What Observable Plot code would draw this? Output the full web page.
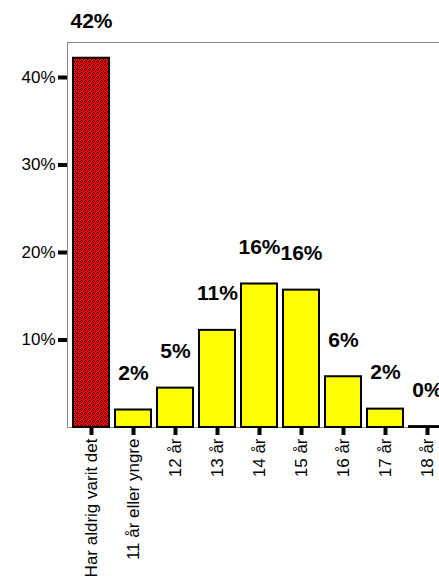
<!DOCTYPE html>
<html>
<head>
<meta charset="utf-8">
<script src="https://cdn.jsdelivr.net/npm/d3@7"></script>
<script src="https://cdn.jsdelivr.net/npm/@observablehq/plot@0.6"></script>
<style>
  html, body { margin: 0; padding: 0; background: white; overflow: hidden; }
</style>
</head>
<body>
<div id="chart"></div>
<script>
const categories = ["Har aldrig varit det", "11 år eller yngre", "12 år", "13 år", "14 år", "15 år", "16 år", "17 år", "18 år"];
const percents = [42.2, 2.0, 4.5, 11.1, 16.4, 15.7, 5.8, 2.1, 0.1];
const yTicks = [10, 20, 30, 40];
const highlightColor = "url(#dots)";
const barColor = "#ffff00";

const data = categories.map((c, i) => ({category: c, value: percents[i]}));

const svg = Plot.plot({
  width: 439,
  height: 583,
  marginLeft: 67,
  marginTop: 42,
  marginBottom: 156,
  marginRight: -20,
  style: {fontFamily: "'Liberation Sans', Arial, sans-serif", background: "white", color: "black", overflow: "visible"},
  x: {domain: categories, range: [66.7, 450.2], paddingInner: 0.15, paddingOuter: 0.087, label: null},
  y: {domain: [0, 44], label: null},
  marks: [
    Plot.frame({stroke: "#888"}),
    Plot.barY(data.slice(0, 1), {x: "category", y: "value", fill: highlightColor, stroke: "black", strokeWidth: 2}),
    Plot.barY(data.slice(1), {x: "category", y: "value", fill: barColor, stroke: "black", strokeWidth: 2}),
    Plot.text(data, {x: "category", y: "value", text: d => Math.round(d.value) + "%", fontWeight: "bold", fontSize: 21, lineAnchor: "bottom", dy: -30, fill: "black"}),
    Plot.axisY({ticks: yTicks, tickFormat: d => d + "%", tickSize: 9, strokeWidth: 4, fontSize: 17, tickPadding: 3, label: null}),
    Plot.axisX({tickRotate: -90, tickSize: 8, strokeWidth: 4, fontSize: 17, tickPadding: 3, label: null})
  ]
});

const defs = d3.select(svg).insert("defs", ":first-child");
const pat = defs.append("pattern")
  .attr("id", "dots")
  .attr("width", 4).attr("height", 4)
  .attr("patternUnits", "userSpaceOnUse");
pat.append("rect").attr("width", 4).attr("height", 4).attr("fill", "#ff0000");
[[1,0],[0,1],[2,1],[1,2],[3,3]].forEach(([x, y]) => {
  pat.append("rect").attr("x", x).attr("y", y).attr("width", 1).attr("height", 1).attr("fill", "#3a0000");
});

document.getElementById("chart").appendChild(svg);
</script>
</body>
</html>
